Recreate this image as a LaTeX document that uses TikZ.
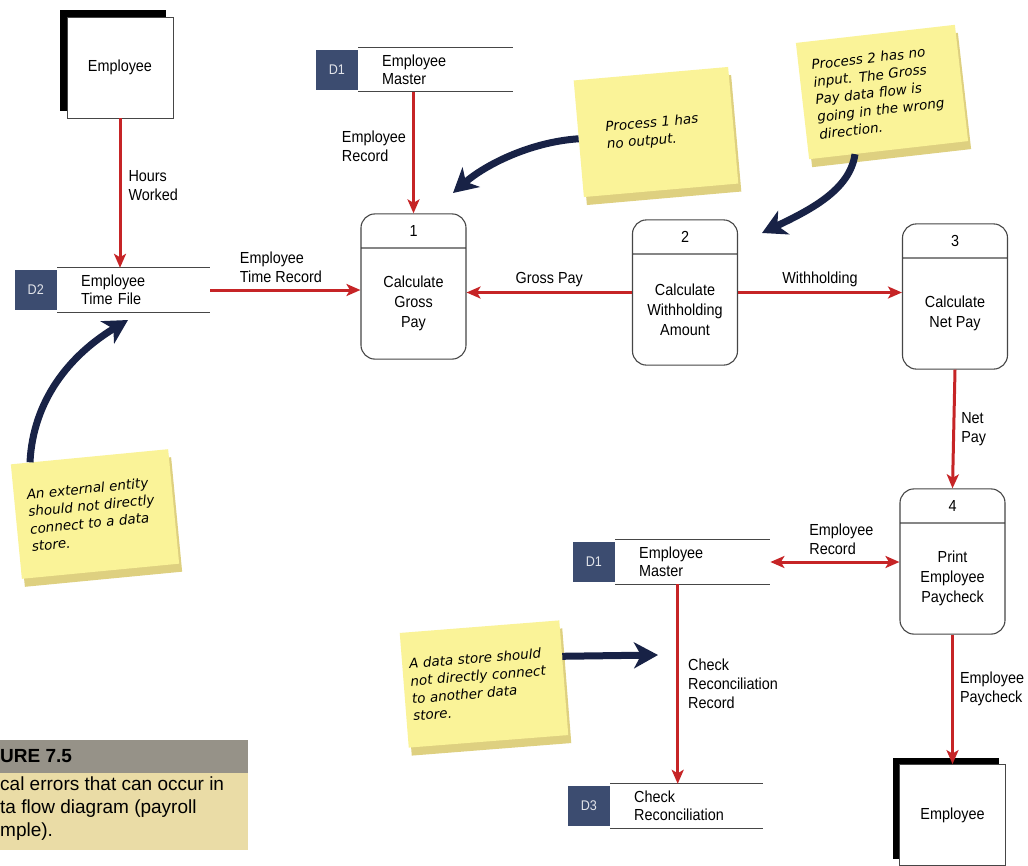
\documentclass[tikz,border=0pt]{standalone}
\usepackage{fontspec}
\setmainfont{Liberation Sans}[FakeStretch=0.9]
\newfontfamily\notafont{DejaVu Sans}
\newfontfamily\piefont{Liberation Sans}
\usetikzlibrary{positioning,arrows.meta,shapes.multipart,shadows}

\definecolor{rojo}{RGB}{198,36,38}
\definecolor{marino}{RGB}{24,34,70}
\definecolor{idazul}{RGB}{60,76,112}
\definecolor{amarillo}{RGB}{250,243,152}
\definecolor{amarilloosc}{RGB}{222,208,128}
\definecolor{piegris}{RGB}{150,146,136}
\definecolor{pieocre}{RGB}{234,220,166}
\definecolor{borde}{RGB}{70,70,70}

\newcommand{\ptexto}[2]{\parbox[c][33pt][c]{105pt}{\centering #1}\nodepart{two}\parbox[c][110pt][c]{105pt}{\centering #2}}

\tikzset{
  entidad/.style={draw=borde, line width=0.8pt, fill=white, minimum width=106pt, minimum height=101pt, inner sep=0pt, font=\fontsize{16}{19}\selectfont, general shadow={fill=black, shadow xshift=-7pt, shadow yshift=7pt}},
  proceso/.style={rectangle split, rectangle split parts=2, draw=borde, line width=1.1pt, rounded corners=14pt, fill=white, inner sep=0pt, font=\fontsize{16}{20}\selectfont},
  almacen/.style={anchor=west, minimum height=44pt, inner xsep=24pt, inner ysep=0pt, text width=#1, align=left, font=\fontsize{16}{18}\selectfont},
  almacenid/.style={fill=idazul, text=white!85!idazul, minimum width=42pt, minimum height=40pt, inner sep=0pt, font=\fontsize{14}{16}\selectfont},
  linea/.style={draw=borde, line width=1.3pt},
  etiqueta/.style={align=left, inner sep=0pt, font=\fontsize{16}{19}\selectfont},
  flujo/.style={draw=rojo, line width=3pt, -{Stealth[length=14pt,width=12pt,inset=3.5pt]}},
  flujodoble/.style={draw=rojo, line width=3pt, {Stealth[length=14pt,width=12pt,inset=3.5pt]}-{Stealth[length=14pt,width=12pt,inset=3.5pt]}},
  nota/.style={fill=amarillo, text width=#1, align=left, inner sep=0pt, font=\notafont\itshape\fontsize{13.5}{17.5}\selectfont, general shadow={fill=amarilloosc, shadow xshift=3pt, shadow yshift=-8pt}},
  aviso/.style={draw=marino, line width=7pt, -{Stealth[length=24pt,width=26pt,inset=7pt]}}
}

\begin{document}
\begin{tikzpicture}[x=1pt,y=-1pt]
    \useasboundingbox (0,0) rectangle (1028,865);
    \fill[white] (0,0) rectangle (1028,865);

    % entidades y procesos
    \node[entidad] (emp1) at (120,67.5) {Employee};
    \node[entidad] (emp2) at (952.5,815) {Employee};
    \node[proceso] (p1) at (413.5,286.5) {\ptexto{1}{Calculate\\Gross\\Pay}};
    \node[proceso] (p2) at (685,292.5) {\ptexto{2}{Calculate\\Withholding\\Amount}};
    \node[proceso] (p3) at (955,296.5) {\ptexto{3}{Calculate\\Net Pay}};
    \node[proceso] (p4) at (952.5,561.5) {\ptexto{4}{Print\\Employee\\Paycheck}};

    % almacenes de datos
    \node[almacen=107pt] (d1) at (358,69.5) {Employee\\Master};
    \node[almacenid, left=0pt of d1] (d1id) {D1};
    \node[almacen=105pt] (d2) at (57,290) {Employee\\Time File};
    \node[almacenid, left=0pt of d2] (d2id) {D2};
    \node[almacen=107pt] (d1b) at (615,562) {Employee\\Master};
    \node[almacenid, left=0pt of d1b] (d1bid) {D1};
    \node[almacen=105pt] (d3) at (610,806) {Check\\Reconciliation};
    \node[almacenid, left=0pt of d3] (d3id) {D3};
    \foreach \s in {d1,d2,d1b,d3}
        \draw[linea] (\s.north west) -- (\s.north east) (\s.south west) -- (\s.south east);

    % flujos
    \draw[flujo] (emp1.south) -- node[etiqueta, right=7pt, pos=0.45] (lhoras) {Hours\\Worked} (emp1.south |- d2.north);
    \draw[flujo] (d2.east) -- node[etiqueta, above=6pt, pos=0.47] (ltiempo) {Employee\\Time Record} (d2.east -| p1.west);
    \draw[flujo] (p1.north |- d1.south) -- node[etiqueta, left=6pt, pos=0.45] (lreg1) {Employee\\Record} (p1.north);
    \draw[flujo] (p2.west) -- node[etiqueta, above=4pt] (lbruto) {Gross Pay} (p2.west -| p1.east);
    \draw[flujo] (p2.east) -- node[etiqueta, above=4pt] (lretencion) {Withholding} (p2.east -| p3.west);
    \draw[flujo] (p3.south) -- node[etiqueta, right=6pt, pos=0.5] (lneto) {Net\\Pay} (p4.north);
    \draw[flujodoble] (d1b.east) -- node[etiqueta, above=6pt, pos=0.55] (lreg2) {Employee\\Record} (d1b.east -| p4.west);
    \draw[flujo] ([xshift=-15pt]d1b.south) -- node[etiqueta, right=9pt, pos=0.5] (lcheque) {Check\\Reconciliation\\Record} ([xshift=-15pt]d1b.south |- d3.north);
    \draw[flujo] (p4.south) -- node[etiqueta, right=6pt, pos=0.42] (lpago) {Employee\\Paycheck} (p4.south |- emp2.north);

    % notas
    \node[nota=100pt, minimum width=155pt, minimum height=117pt, rotate=5] (notaA) at (656,132) {Process 1 has\\no output.};
    \node[nota=134pt, minimum width=160pt, minimum height=117pt, rotate=6.5] (notaB) at (882,92) {Process 2 has no\\input. The Gross\\Pay data flow is\\going in the wrong\\direction.};
    \node[nota=132pt, minimum width=158pt, minimum height=115pt, rotate=5.5] (notaC) at (95,514) {An external entity\\should not directly\\connect to a data\\store.};
    \node[nota=146pt, minimum width=160pt, minimum height=115pt, rotate=4.5] (notaD) at (484,684) {A data store should\\not directly connect\\to another data\\store.};

    \coordinate (puntaA) at (453,193);
    \coordinate (puntaB) at (762,233);
    \coordinate (puntaC) at (128,320);
    \coordinate (puntaD) at (658,655);
    \draw[aviso] (notaA.west) .. controls (530,142) and (485,165) .. (puntaA);
    \draw[aviso] (notaB.240) .. controls (850,190) and (810,210) .. (puntaB);
    \draw[aviso] (notaC.136) .. controls (33,400) and (70,355) .. (puntaC);
    \draw[aviso] (notaD.15) -- (puntaD);

    % pie de figura
    \fill[piegris] (0,740) rectangle (248,773);
    \fill[pieocre] (0,773) rectangle (248,850);
    \node[anchor=west, inner sep=0pt, font=\piefont\bfseries\fontsize{19}{23}\selectfont] (fig) at (0,756) {URE 7.5};
    \node[anchor=north west, align=left, inner sep=0pt, font=\piefont\fontsize{19}{23}\selectfont] (pie) at (0,777) {cal errors that can occur in\\ta flow diagram (payroll\\mple).};
\end{tikzpicture}
\end{document}
